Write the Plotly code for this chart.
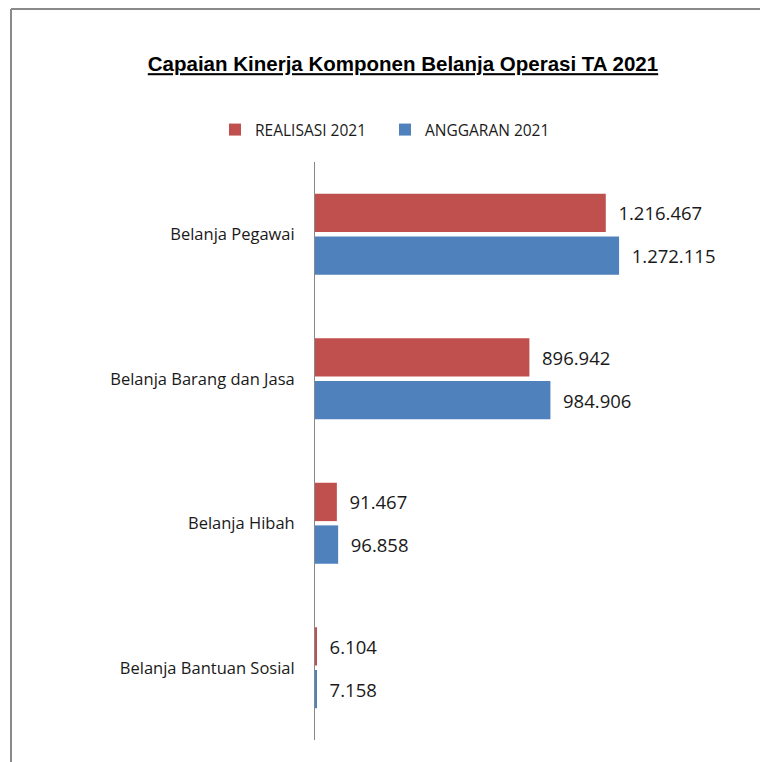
import plotly.graph_objects as go

categories = ["Belanja Pegawai", "Belanja Barang dan Jasa", "Belanja Hibah", "Belanja Bantuan Sosial"]
realisasi = [1216467, 896942, 91467, 6104]
anggaran = [1272115, 984906, 96858, 7158]

OFF = 8  # page body margin in the browser
W, H = 760, 754
# plot area in screen pixels
SL, SR, ST, SB = 315, 740, 162, 740
L = SL - OFF
T = ST - OFF
R = W - (SR - OFF)
B = H - (SB - OFF)
pw = W - L - R
ph = H - T - B

def px_x(s):
    return (s - OFF - L) / pw

def px_y(s):
    return (H - B - (s - OFF)) / ph

FONT = "Open Sans"

fig = go.Figure()
fig.add_trace(go.Bar(
    y=categories, x=realisasi, orientation="h", name="REALISASI 2021",
    marker=dict(color="#C0504D", line=dict(width=0)), texttemplate="  %{x:,}", textposition="outside",
    textfont=dict(size=18.5, color="#1a1a1a", family=FONT), cliponaxis=False,
))
fig.add_trace(go.Bar(
    y=categories, x=anggaran, orientation="h", name="ANGGARAN 2021",
    marker=dict(color="#4F81BD", line=dict(width=0)), texttemplate="  %{x:,}", textposition="outside",
    textfont=dict(size=18.5, color="#1a1a1a", family=FONT), cliponaxis=False,
))

fig.update_layout(
    width=W, height=H,
    margin=dict(l=L, r=R, t=T, b=B, pad=0),
    paper_bgcolor="white", plot_bgcolor="white",
    separators=",.",
    barmode="group", bargap=0.41, bargroupgap=0.1,
    title=dict(
        text="<u><b>Capaian Kinerja Komponen Belanja Operasi TA 2021</b></u>",
        x=(403 - OFF) / W, xanchor="center", y=1 - (64 - OFF) / H, yanchor="middle",
        font=dict(family="Liberation Sans, Arial, sans-serif", size=20.5, color="black"),
    ),
    legend=dict(
        orientation="h", x=px_x(215), xanchor="left", y=px_y(130), yanchor="middle",
        font=dict(family=FONT, size=15.5, color="#1a1a1a"),
        itemwidth=30, traceorder="normal", entrywidth=125,
    ),
    xaxis=dict(range=[0, 1778000], visible=False, showgrid=False, zeroline=False),
    yaxis=dict(
        autorange="reversed", showline=True, linecolor="#888888", linewidth=1,
        ticks="", ticklabelstandoff=16, showgrid=False,
        tickfont=dict(family=FONT, size=16.5, color="#1a1a1a"),
    ),
    showlegend=True,
)

frame = dict(color="#8a8a8a", width=2)
fig.add_shape(type="line", xref="paper", yref="paper", x0=px_x(11), x1=px_x(11), y0=px_y(9), y1=px_y(775), line=frame)
fig.add_shape(type="line", xref="paper", yref="paper", x0=px_x(11), x1=px_x(766), y0=px_y(9), y1=px_y(9), line=frame)
fig.add_shape(type="line", xref="paper", yref="paper", x0=px_x(766), x1=px_x(766), y0=px_y(9), y1=px_y(775), line=frame)

fig.write_html("out.html")
